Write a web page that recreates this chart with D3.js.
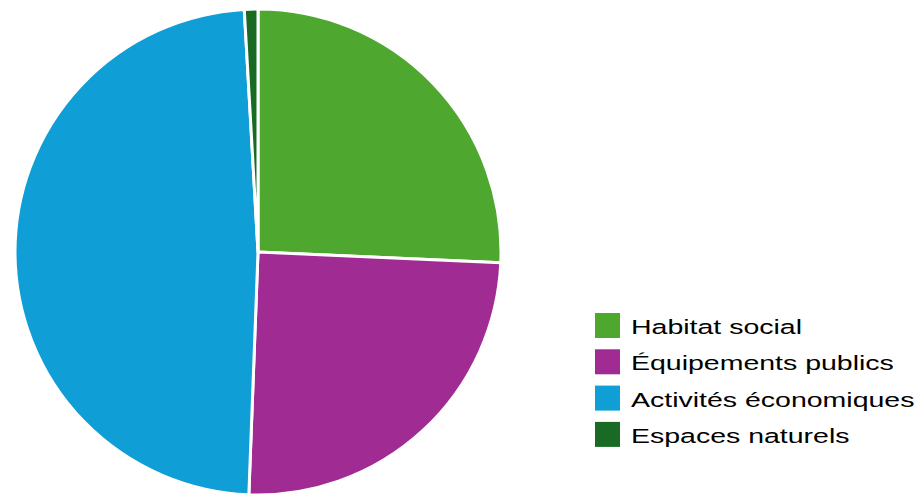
<!DOCTYPE html>
<html>
<head>
<meta charset="utf-8">
<script src="https://cdn.jsdelivr.net/npm/d3@7"></script>
<style>
  html, body { margin: 0; padding: 0; background: #fff; }
  svg { display: block; }
</style>
</head>
<body>
<svg id="chart" width="923" height="494"></svg>
<script>
// Répartition des surfaces par destination (%)
const categories = ["Habitat social", "Équipements publics", "Activités économiques", "Espaces naturels"];
const values = [25.7, 24.9, 48.5, 0.9];
const colors = ["#4EA72E", "#A02B93", "#0F9ED5", "#196B24"];

const svg = d3.select("#chart");
const cx = 258, cy = 252, radius = 243;

const pie = d3.pie().sort(null).value(d => d.value);
const arc = d3.arc().innerRadius(0).outerRadius(radius);
const color = d3.scaleOrdinal().domain(categories).range(colors);

const data = categories.map((c, i) => ({ name: c, value: values[i] }));

svg.append("g")
  .attr("transform", `translate(${cx},${cy})`)
  .selectAll("path")
  .data(pie(data))
  .join("path")
  .attr("d", arc)
  .attr("fill", d => color(d.data.name))
  .attr("stroke", "#fff")
  .attr("stroke-width", 3)
  .attr("stroke-linejoin", "round");

// Légende (texte élargi horizontalement)
const legend = svg.append("g").attr("transform", "translate(595,313)");
const rowH = 36.3;
const rows = legend.selectAll("g")
  .data(categories)
  .join("g")
  .attr("transform", (d, i) => `translate(0,${i * rowH})`);

rows.append("rect")
  .attr("width", 25)
  .attr("height", 25)
  .attr("fill", d => color(d));

rows.append("text")
  .attr("transform", "translate(36,21) scale(1.39,1)")
  .attr("font-family", "Liberation Sans, Arial, Helvetica, sans-serif")
  .attr("font-size", 20.5)
  .attr("fill", "#000")
  .text(d => d);
</script>
</body>
</html>
